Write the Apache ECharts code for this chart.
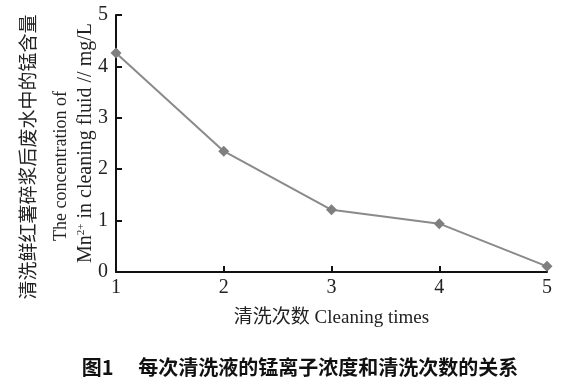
<!DOCTYPE html>
<html><head><meta charset="utf-8">
<script src="https://cdn.jsdelivr.net/npm/echarts@6/dist/echarts.min.js"></script>
<style>html,body{margin:0;padding:0;background:#fff}#c{width:574px;height:384px}</style>
</head><body><div id="c"></div>
<script>
var times = [1, 2, 3, 4, 5];
var mnConc = [4.26, 2.35, 1.21, 0.94, 0.11];
var xTicks = { min: 1, max: 5, interval: 1 };
var yTicks = { min: 0, max: 5, interval: 1 };
var yNameLines = ['清洗鲜红薯碎浆后废水中的锰含量', 'The concentration of'];
var xName = '清洗次数 Cleaning times';
var caption = '图1　 每次清洗液的锰离子浓度和清洗次数的关系';

var serif = "'Liberation Serif','Noto Sans CJK SC',serif";
var chart = echarts.init(document.getElementById('c'));
chart.setOption({
  animation: false,
  backgroundColor: '#fff',
  grid: { left: 116, right: 27, top: 15, bottom: 112 },
  xAxis: {
    type: 'value', min: xTicks.min, max: xTicks.max, interval: xTicks.interval,
    axisLine: { lineStyle: { color: '#111', width: 2 } },
    axisTick: { inside: true, length: 6, lineStyle: { color: '#111', width: 2 } },
    axisLabel: { color: '#222', fontFamily: serif, fontSize: 20, margin: 6 },
    splitLine: { show: false },
    name: xName, nameLocation: 'middle', nameGap: 37,
    nameTextStyle: { color: '#222', fontFamily: serif, fontSize: 19 }
  },
  yAxis: {
    type: 'value', min: yTicks.min, max: yTicks.max, interval: yTicks.interval,
    axisLine: { show: true, lineStyle: { color: '#111', width: 2 } },
    axisTick: { show: true, inside: true, length: 6, lineStyle: { color: '#111', width: 2 } },
    axisLabel: { color: '#222', fontFamily: serif, fontSize: 20, margin: 8 },
    splitLine: { show: false }
  },
  series: [{
    type: 'line',
    data: times.map(function (t, i) { return [t, mnConc[i]]; }),
    symbol: 'diamond', symbolSize: 11,
    itemStyle: { color: '#7f7f7f' },
    lineStyle: { color: '#8a8a8a', width: 2 }
  }],
  graphic: [
    { type: 'text', x: 30, y: 157, rotation: Math.PI / 2, silent: true,
      style: { text: yNameLines[0], fill: '#222', font: "19px " + serif, align: 'center', verticalAlign: 'middle' } },
    { type: 'text', x: 61, y: 166, rotation: Math.PI / 2, silent: true,
      style: { text: yNameLines[1], fill: '#222', font: "18px " + serif, align: 'center', verticalAlign: 'middle' } },
    { type: 'text', x: 86, y: 143, rotation: Math.PI / 2, silent: true,
      style: { text: '{a|Mn}{s|2+}{a| in cleaning fluid // mg/L}', align: 'center', verticalAlign: 'middle',
        rich: { a: { fill: '#222', fontFamily: serif, fontSize: 20 },
                s: { fill: '#222', fontFamily: serif, fontSize: 11, verticalAlign: 'top', padding: [0, 0, 9, 0] } } } },
    { type: 'text', x: 300, y: 367, silent: true,
      style: { text: caption, fill: '#111', font: "bold 20px 'Noto Sans CJK SC',sans-serif", align: 'center', verticalAlign: 'middle' } }
  ]
});
</script></body></html>
